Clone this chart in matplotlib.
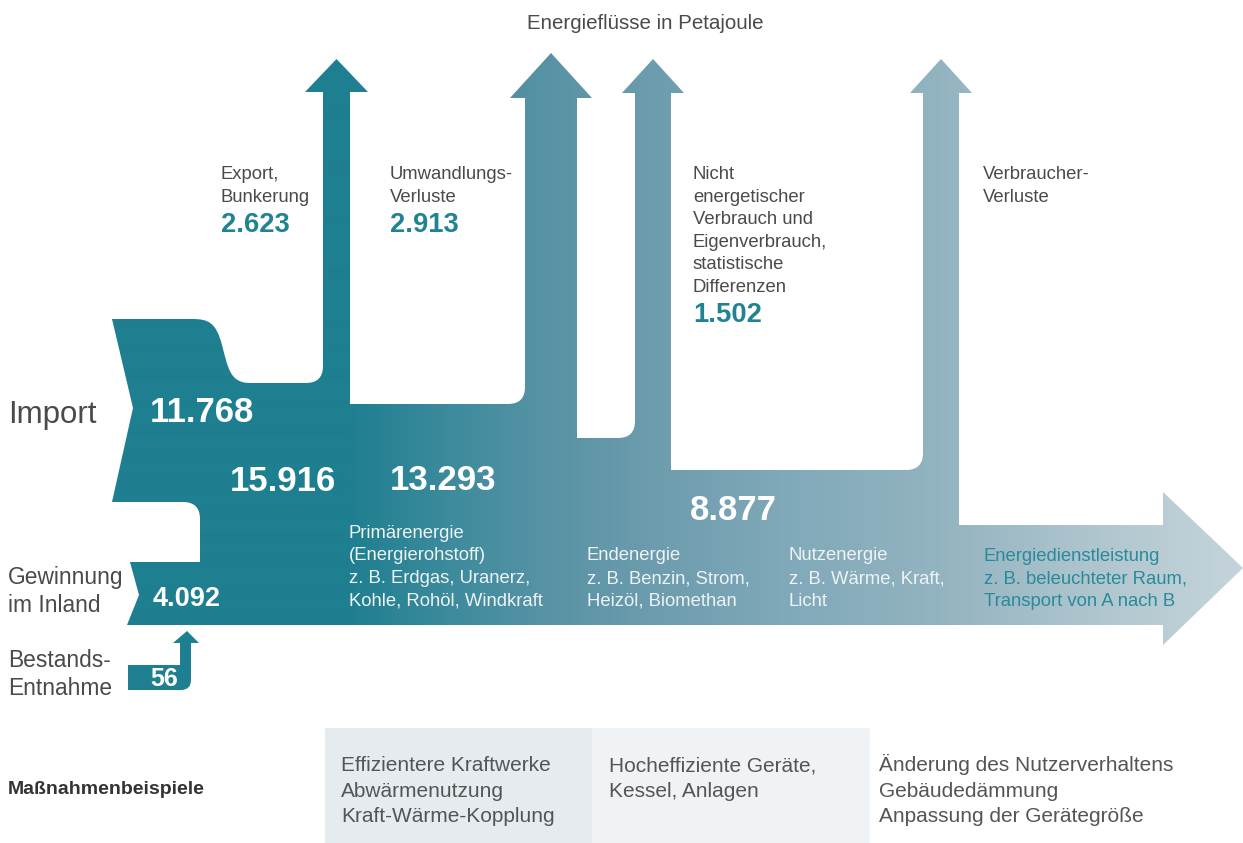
"""
Energieflussbild (Petajoule): Import/Gewinnung -> Primär-, End-, Nutzenergie
-> Energiedienstleistung, mit Verlustpfeilen nach oben. Saves out.png.
"""

import numpy as np
import matplotlib.pyplot as plt
from matplotlib.path import Path
from matplotlib.patches import PathPatch, Rectangle
from matplotlib.colors import to_rgb

plt.rcParams["font.family"] = ["Liberation Sans", "DejaVu Sans"]

# ---- data (Petajoule) ----
source_labels = ["Import", "Gewinnung\nim Inland", "Bestands-\nEntnahme"]
source_values = [11768, 4092, 56]
stage_totals = [15916, 13293, 8877]
loss_labels = ["Export,\nBunkerung", "Umwandlungs-\nVerluste",
               "Nicht\nenergetischer\nVerbrauch und\nEigenverbrauch,\nstatistische\nDifferenzen",
               "Verbraucher-\nVerluste"]
loss_values = [2623, 2913, 1502, None]
stage_labels = ["Primärenergie\n(Energierohstoff)\nz. B. Erdgas, Uranerz,\nKohle, Rohöl, Windkraft",
                "Endenergie\nz. B. Benzin, Strom,\nHeizöl, Biomethan",
                "Nutzenergie\nz. B. Wärme, Kraft,\nLicht",
                "Energiedienstleistung\nz. B. beleuchteter Raum,\nTransport von A nach B"]
measure_title = "Maßnahmenbeispiele"
measures = ["Effizientere Kraftwerke\nAbwärmenutzung\nKraft-Wärme-Kopplung",
            "Hocheffiziente Geräte,\nKessel, Anlagen",
            "Änderung des Nutzerverhaltens\nGebäudedämmung\nAnpassung der Gerätegröße"]


def de(v):
    return f"{v:,}".replace(",", ".")


# ---- layout (pixel space) ----
W, H = 1243, 843
TEAL = "#1e7f90"
GREY = "#4a4a4a"
LABEL_TEAL = "#1f8394"
R = 17  # corner radius

# loss arrows: shaft left, shaft right, head base y, tip y, head overhang, level y of flow left of arrow
branches = [(323, 350, 92, 59, 18, 383),
            (525, 577, 98, 53, 15, 404),
            (635, 671, 93, 59, 13, 438),
            (923, 959, 93, 59, 13, 470)]
body_top, body_bottom = 525, 625
head_x, head_top, head_bot, tip = 1163, 492, 645, (1243, 568)

fig = plt.figure(figsize=(W / 100, H / 100), dpi=100)
ax = fig.add_axes([0, 0, 1, 1])
ax.set_xlim(0, W)
ax.set_ylim(H, 0)
ax.axis("off")

verts, codes = [], []


def mv(x, y):
    verts.append((x, y)); codes.append(Path.MOVETO)


def ln(x, y):
    verts.append((x, y)); codes.append(Path.LINETO)


def q(cx, cy, x, y):
    verts.extend([(cx, cy), (x, y)]); codes.extend([Path.CURVE3] * 2)


def c(c1, c2, p):
    verts.extend([c1, c2, p]); codes.extend([Path.CURVE4] * 3)


# main flow outline
mv(112, 319)
ln(192, 319)
c((208, 319), (216, 322), (222, 345))
c((228, 368), (230, 383), (250, 383))
for i, (xl, xr, yb, yt, oh, lvl) in enumerate(branches):
    ln(xl - R, lvl)
    q(xl, lvl, xl, lvl - R)
    ln(xl, yb)
    ln(xl - oh, yb)
    ln((xl + xr) / 2, yt)
    ln(xr + oh, yb)
    ln(xr, yb)
    nxt = branches[i + 1][5] if i + 1 < len(branches) else body_top
    ln(xr, nxt)
ln(head_x, body_top)
ln(head_x, head_top)
ln(*tip)
ln(head_x, head_bot)
ln(head_x, body_bottom)
ln(127, body_bottom)
ln(139, 595)
ln(130, 562)
ln(200, 562)
ln(200, 502 + R)
q(200, 502, 200 - R, 502)
ln(112, 502)
ln(133, 408)
ln(112, 319)
verts.append((112, 319)); codes.append(Path.CLOSEPOLY)
flow_path = Path(verts, codes)

patch = PathPatch(flow_path, facecolor="none", edgecolor="none")
ax.add_patch(patch)

# horizontal colour gradient clipped to the flow
stops_x = [0, 350, 450, 550, 650, 800, 940, 1100, 1243]
stops_c = ["#1e7f90", "#1e7f90", "#3d8b9d", "#5893a5", "#6c9cad",
           "#82aaba", "#93b3c0", "#b0c6cf", "#c5d4db"]
xs = np.arange(W) + 0.5
rgb = np.array([to_rgb(s) for s in stops_c])
grad = np.stack([np.interp(xs, stops_x, rgb[:, k]) for k in range(3)], axis=-1)
img = ax.imshow(grad[None, :, :], extent=[0, W, H, 0], aspect="auto",
                interpolation="bilinear", zorder=1)
img.set_clip_path(patch)

# Bestands-Entnahme small arrow
verts, codes = [], []
mv(128, 665)
ln(180, 665)
ln(180, 643)
ln(173, 643)
ln(187, 631)
ln(199, 643)
ln(191, 643)
ln(191, 680)
q(191, 690, 181, 690)
ln(128, 690)
verts.append((128, 665)); codes.append(Path.CLOSEPOLY)
ax.add_patch(PathPatch(Path(verts, codes), facecolor=TEAL, edgecolor="none", zorder=2))

# ---- texts ----
ax.text(645, 29, "Energieflüsse in Petajoule", fontsize=14.8, color=GREY, ha="center")


def lines(x, y0, text, dy, **kw):
    for i, s in enumerate(text.split("\n")):
        ax.text(x, y0 + i * dy, s, zorder=5, **kw)


# sources
ax.text(8, 423, source_labels[0], fontsize=22.5, color=GREY)
lines(8, 584, source_labels[1], 28, fontsize=16.4, color=GREY)
lines(8, 667, source_labels[2], 28, fontsize=16.4, color=GREY)
ax.text(150, 422, de(source_values[0]), fontsize=25, color="white", weight="bold", zorder=5)
ax.text(153, 606, de(source_values[1]), fontsize=19.5, color="white", weight="bold", zorder=5)
ax.text(150, 686, de(source_values[2]), fontsize=18, color="white", weight="bold", zorder=5)

# stage totals
for (x, y), v in zip([(230, 491), (390, 490), (690, 520)], stage_totals):
    ax.text(x, y, de(v), fontsize=25, color="white", weight="bold", zorder=5)

# losses
loss_x = [221, 390, 693, 983]
for x, lab, v in zip(loss_x, loss_labels, loss_values):
    n = lab.count("\n") + 1
    lines(x, 179, lab, 22.6, fontsize=13.3, color=GREY)
    if v is not None:
        ax.text(x, 179 + (n - 1) * 22.6 + 30.5, de(v), fontsize=19.7,
                color=LABEL_TEAL, weight="bold")

# stage descriptions
stage_pos = [(349, 538), (587, 560.5), (789, 560.5), (984, 561)]
stage_col = ["#eef3f5", "#eef3f5", "#eef3f5", "#2a8a9a"]
for (x, y), lab, col in zip(stage_pos, stage_labels, stage_col):
    lines(x, y, lab, 22.5, fontsize=13.3, color=col)

# measures
ax.add_patch(Rectangle((325, 728), 267, 115, facecolor="#e6ebef", edgecolor="none"))
ax.add_patch(Rectangle((592, 728), 278, 115, facecolor="#eff3f6", edgecolor="none"))
ax.text(8, 794, measure_title, fontsize=14, color="#333333", weight="bold")
for x, lab in zip([341, 609, 879], measures):
    lines(x, 771, lab, 25.7, fontsize=15, color="#555555")

fig.savefig("out.png", dpi=100)
